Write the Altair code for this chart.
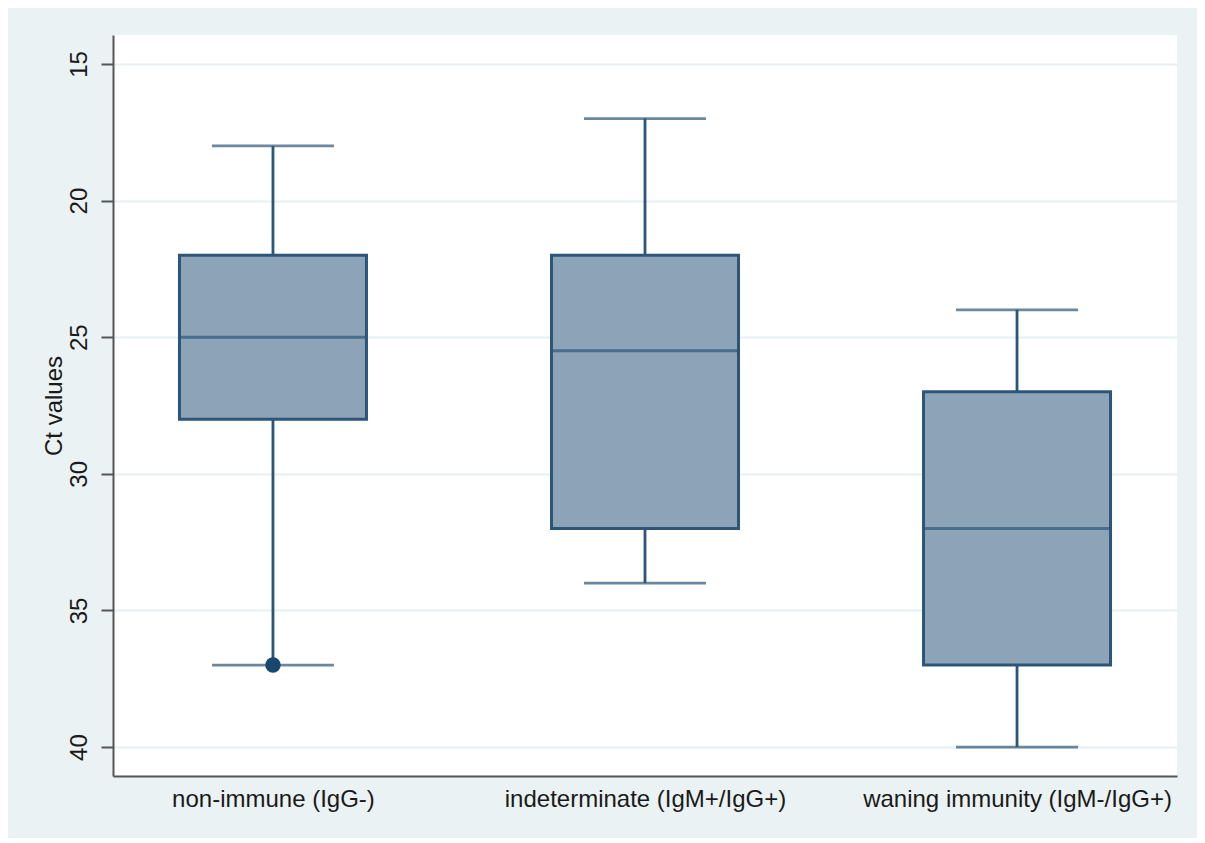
import altair as alt
import pandas as pd

categories = ["non-immune (IgG-)", "indeterminate (IgM+/IgG+)", "waning immunity (IgM-/IgG+)"]
whisker_low = [18, 17, 24]
q1 = [22, 22, 27]
median = [25, 25.5, 32]
q3 = [28, 32, 37]
whisker_high = [37, 34, 40]
outlier_cat = ["non-immune (IgG-)"]
outlier_val = [37]
y_ticks = [15, 20, 25, 30, 35, 40]

df = pd.DataFrame({
    "cat": categories, "lo": whisker_low, "q1": q1, "med": median,
    "q3": q3, "hi": whisker_high,
})
out = pd.DataFrame({"cat": outlier_cat, "val": outlier_val})

STROKE = "#2C5679"
FILL = "#8CA3B8"
DOT = "#1A476F"

xscale = alt.Scale(type="point", padding=0.43)
x = alt.X("cat:N", sort=categories, title=None, scale=xscale)
yscale = alt.Scale(domain=[13.94, 41.06], reverse=True, nice=False, zero=False)
y_first = alt.Y("lo:Q", scale=yscale, title="Ct values", axis=alt.Axis(values=y_ticks))

base = alt.Chart(df)
whisk = base.mark_rule(color=STROKE, strokeWidth=2.8).encode(x=x, y=y_first, y2="hi:Q")
cap_lo = base.mark_tick(color=STROKE, size=122, thickness=2.8).encode(x=x, y=alt.Y("lo:Q", scale=yscale))
cap_hi = base.mark_tick(color=STROKE, size=122, thickness=2.8).encode(x=x, y=alt.Y("hi:Q", scale=yscale))
box = base.mark_bar(size=187, fill=FILL, stroke=STROKE, strokeWidth=3).encode(
    x=x, y=alt.Y("q1:Q", scale=yscale), y2="q3:Q")
med = base.mark_tick(color=STROKE, size=187, thickness=3).encode(x=x, y=alt.Y("med:Q", scale=yscale))
pts = alt.Chart(out).mark_point(filled=True, color=DOT, size=240, opacity=1).encode(
    x=alt.X("cat:N", sort=categories, scale=xscale), y=alt.Y("val:Q", scale=yscale))

chart = alt.layer(whisk, cap_lo, cap_hi, box, med, pts).properties(
    width=1064, height=741,
    autosize=alt.AutoSizeParams(type="none"),
    padding={"left": 105, "top": 27, "right": 20, "bottom": 62},
    background="#EAF2F3",
).configure_view(fill="white", strokeWidth=0).configure_axis(
    labelFont="Liberation Sans", titleFont="Liberation Sans",
    labelColor="#1a1a1a", titleColor="#1a1a1a",
    domainColor="#555555", domainWidth=2,
).configure_axisX(
    labelAngle=0, ticks=False, grid=False, labelFontSize=24, labelPadding=11,
    labelLimit=0,
).configure_axisY(
    labelAngle=-90, labelAlign="center", labelBaseline="bottom", labelFontSize=24,
    labelPadding=10, tickSize=12, tickWidth=2, tickColor="#555555",
    grid=True, gridColor="#E6EFF1", gridWidth=2, titleFontSize=24,
    titleFontWeight="normal", titlePadding=1,
)

chart.save("out.html", embed_options={"renderer": "svg", "actions": False})
